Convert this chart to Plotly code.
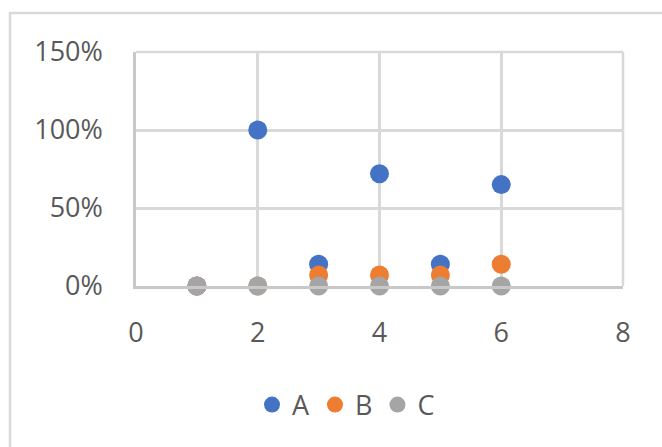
import plotly.graph_objects as go

x_values = [1, 2, 3, 4, 5, 6]
series_a = [0.0, 1.00, 0.14, 0.72, 0.14, 0.65]
series_b = [0.0, 0.0, 0.07, 0.07, 0.07, 0.14]
series_c = [0.0, 0.0, 0.0, 0.0, 0.0, 0.0]
series_names = ["A", "B", "C"]
colors = ["#4472C4", "#ED7D31", "#A5A5A5"]

W, H = 662, 447
L, R, T, B = 136, 39, 52, 161
pw, ph = W - L - R, H - T - B

fig = go.Figure()
for name, vals, col in zip(series_names, [series_a, series_b, series_c], colors):
    fig.add_trace(go.Scatter(
        x=x_values, y=vals, mode="markers", name=name,
        marker=dict(size=19, color=col, line=dict(width=0)),
        cliponaxis=False,
    ))

font = dict(family="Open Sans, Liberation Sans, sans-serif", size=27, color="#595959")

def px_x(p):
    return (p - L) / pw

def px_y(p):
    return (H - B - p) / ph

fig.update_layout(
    width=W, height=H,
    margin=dict(l=L, r=R, t=T, b=B, autoexpand=False),
    paper_bgcolor="white", plot_bgcolor="white",
    font=font,
    showlegend=True,
    legend=dict(orientation="h", x=px_x(346), xanchor="center",
                y=px_y(405), yanchor="middle", font=font,
                itemsizing="trace", bgcolor="rgba(0,0,0,0)"),
    xaxis=dict(range=[0, 8], dtick=2, tick0=0, showgrid=True,
               gridcolor="#D9D9D9", gridwidth=2.5, zeroline=False,
               showline=True, linecolor="#C8C8C8", linewidth=2.5,
               ticks="outside", ticklen=21, tickcolor="rgba(0,0,0,0)",
               tickfont=font, automargin=False),
    yaxis=dict(range=[0, 1.5], dtick=0.5, tick0=0, tickformat=".0%",
               showgrid=True, gridcolor="#D9D9D9", gridwidth=2.5,
               zeroline=False, showline=True, linecolor="#C8C8C8",
               linewidth=2.5, ticks="outside", ticklen=25,
               tickcolor="rgba(0,0,0,0)", tickfont=font, automargin=False),
    shapes=[
        dict(type="rect", xref="paper", yref="paper",
             x0=px_x(10), x1=px_x(700), y0=px_y(470), y1=px_y(13),
             line=dict(color="#D9D9D9", width=2.5), layer="below"),
        dict(type="line", xref="paper", yref="paper", x0=0, x1=1, y0=1, y1=1,
             line=dict(color="#D9D9D9", width=2.5), layer="below"),
        dict(type="line", xref="paper", yref="paper", x0=1, x1=1, y0=0, y1=1,
             line=dict(color="#D9D9D9", width=2.5), layer="below"),
    ],
)

fig.write_html("out.html", config={"displayModeBar": False},
               post_script="document.body.style.margin='0px';document.body.style.padding='0px';")
